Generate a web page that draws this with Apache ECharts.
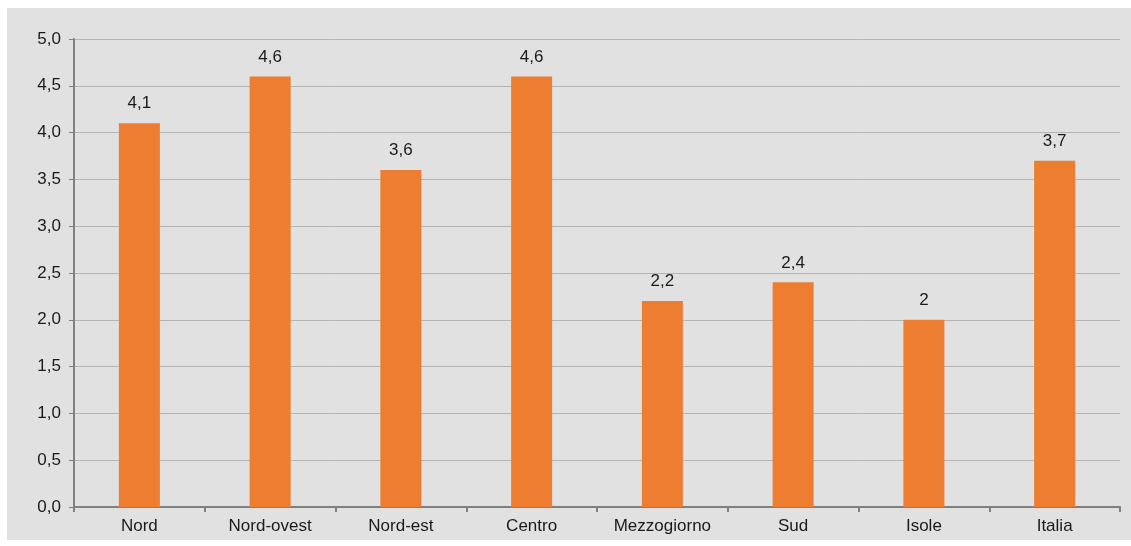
<!DOCTYPE html>
<html><head><meta charset="utf-8">
<script src="https://cdn.jsdelivr.net/npm/echarts@6/dist/echarts.min.js"></script>
<style>html,body{margin:0;padding:0;background:#fff;width:1131px;height:546px;overflow:hidden}
#c{position:absolute;left:7px;top:8px;width:1124px;height:532px;}</style>
</head><body><div id="c"></div>
<script>
const categories = ['Nord','Nord-ovest','Nord-est','Centro','Mezzogiorno','Sud','Isole','Italia'];
const values = [4.1,4.6,3.6,4.6,2.2,2.4,2.0,3.7];
const fmt = v => v.toFixed(1).replace('.', ',');
const lbl = v => String(v).replace('.', ',');
const chart = echarts.init(document.getElementById('c'));
chart.setOption({
  backgroundColor:'#e1e1e1',
  animation:false,
  textStyle:{fontFamily:'Liberation Sans, Arial, sans-serif'},
  grid:{left:67,right:11,top:31,bottom:33},
  xAxis:{type:'category',data:categories,
    axisLine:{lineStyle:{color:'#808080',width:2}},
    axisTick:{show:true,length:5,lineStyle:{color:'#808080',width:2}},
    axisLabel:{color:'#1a1a1a',fontSize:17,margin:11}},
  yAxis:{type:'value',min:0,max:5,interval:0.5,
    axisLine:{show:true,lineStyle:{color:'#808080',width:2}},
    axisTick:{show:true,length:5,lineStyle:{color:'#808080',width:1}},
    splitLine:{lineStyle:{color:'#b4b4b4',width:1}},
    axisLabel:{color:'#1a1a1a',fontSize:17,margin:13,formatter:fmt}},
  series:[{type:'bar',data:values,barWidth:41,
    itemStyle:{color:'#ED7D31'},
    label:{show:true,position:'top',distance:11,color:'#1a1a1a',fontSize:17,formatter:p=>lbl(p.value)}}]
});
</script></body></html>
